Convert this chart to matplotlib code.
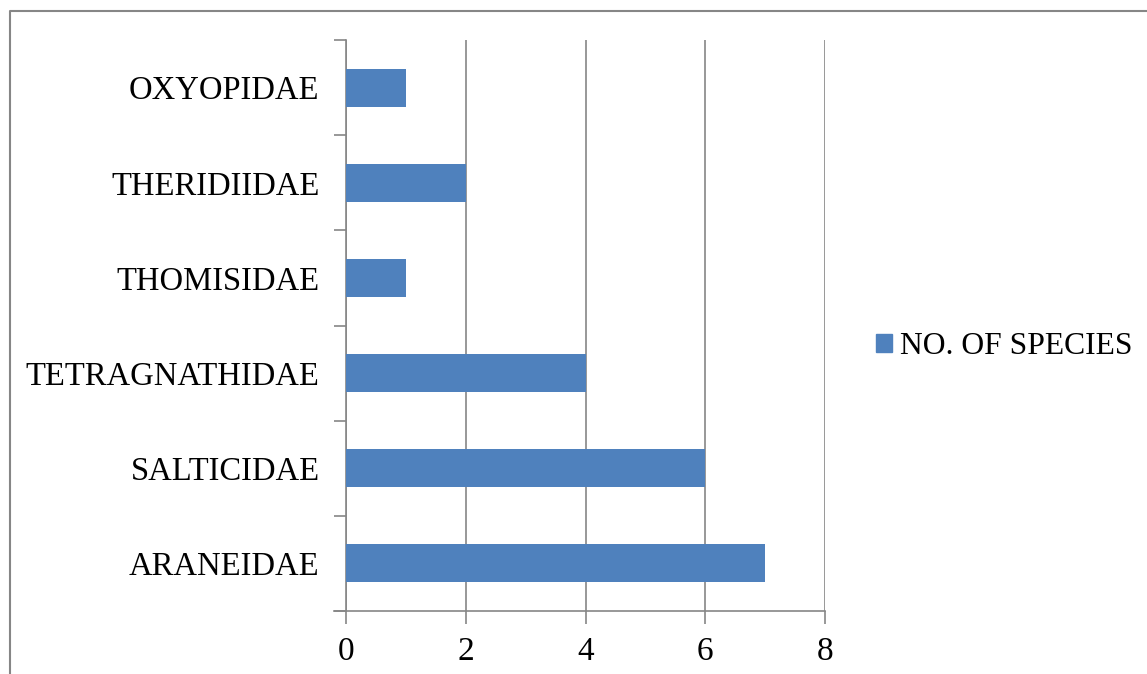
import matplotlib
matplotlib.use("Agg")
import matplotlib.pyplot as plt
from matplotlib.lines import Line2D
from matplotlib.patches import Patch
from matplotlib.ticker import FixedLocator

families = ["ARANEIDAE", "SALTICIDAE", "TETRAGNATHIDAE", "THOMISIDAE", "THERIDIIDAE", "OXYOPIDAE"]
species_counts = [7, 6, 4, 1, 2, 1]
x_ticks = [0, 2, 4, 6, 8]
series_name = "NO. OF SPECIES"

W, H = 1147, 674
bar_color = "#4F81BD"
line_color = "#868686"

plt.rcParams["font.family"] = ["Liberation Serif", "DejaVu Serif"]

fig = plt.figure(figsize=(W / 100, H / 100), dpi=100)
fig.patch.set_facecolor("white")

left, right, top, bottom = 346, 825, 40, 611
ax = fig.add_axes([left / W, 1 - bottom / H, (right - left) / W, (bottom - top) / H])

ypos = list(range(len(families)))
ax.barh(ypos, species_counts, height=0.4, color=bar_color, zorder=3)

ax.set_xlim(0, 8)
ax.set_ylim(-0.5, len(families) - 0.5)

ax.set_xticks(x_ticks)
ax.set_xticklabels([str(t) for t in x_ticks], fontsize=24)
ax.set_yticks(ypos)
ax.set_yticklabels(families, fontsize=23.5)
ax.yaxis.set_minor_locator(FixedLocator([i - 0.5 for i in range(len(families) + 1)]))

ax.tick_params(axis="y", which="major", length=0, pad=19)
ax.tick_params(axis="y", which="minor", length=9, width=1.2, color=line_color, direction="out")
ax.tick_params(axis="x", which="major", length=9, width=1.2, color=line_color, direction="out", pad=9)

for side in ("top", "right"):
    ax.spines[side].set_visible(False)
for side in ("left", "bottom"):
    ax.spines[side].set_color(line_color)
    ax.spines[side].set_linewidth(1.2)

ax.grid(axis="x", color=line_color, linewidth=1.2, zorder=1)
ax.set_axisbelow(True)

# extend the baseline a little to the left of the value axis origin
ax.plot([-0.2, 0], [-0.5, -0.5], color=line_color, linewidth=1.2, clip_on=False, zorder=2)

fig.legend(handles=[Patch(facecolor=bar_color, edgecolor=bar_color)], labels=[series_name],
           loc="center left", bbox_to_anchor=(876 / W, 1 - 347 / H), frameon=False,
           fontsize=22.8, handlelength=0.5, handleheight=0.5, handletextpad=0.25,
           borderpad=0, borderaxespad=0)

# chart-area frame (top and left edges)
fig.add_artist(Line2D([10 / W, 10 / W, 1.0], [0.0, 1 - 11 / H, 1 - 11 / H],
                      transform=fig.transFigure, color=line_color, linewidth=1.5))

fig.savefig("out.png", dpi=100, facecolor="white")
